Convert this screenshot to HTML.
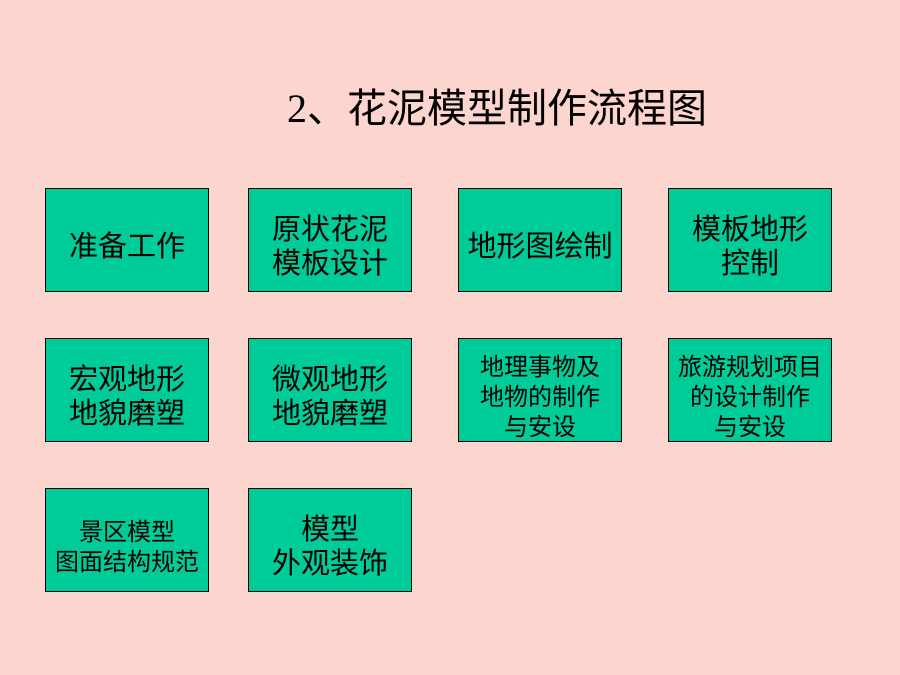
<!DOCTYPE html>
<html><head><meta charset="utf-8"><style>
body{margin:0;width:900px;height:675px;background:#fdd5cf;position:relative;overflow:hidden;font-family:"Liberation Serif","Noto Sans CJK SC",sans-serif;}
.t{position:absolute;left:287px;top:76px;font-size:40px;color:#000;white-space:nowrap;}
.b{position:absolute;width:164px;height:104px;background:#00cc99;border:1px solid #000;box-sizing:border-box;display:flex;align-items:center;justify-content:center;text-align:center;color:#000;font-family:"Liberation Sans","Noto Sans CJK SC",sans-serif;padding-top:13px;white-space:nowrap;}
.L{font-size:29px;line-height:34px;}
.S{font-size:24px;line-height:30px;padding-top:16px;}
</style></head><body>
<div class="t">2、花泥模型制作流程图</div>
<div class="b L" style="left:45px;top:188px">准备工作</div>
<div class="b L" style="left:248px;top:188px">原状花泥<br>模板设计</div>
<div class="b L" style="left:458px;top:188px">地形图绘制</div>
<div class="b L" style="left:668px;top:188px">模板地形<br>控制</div>
<div class="b L" style="left:45px;top:338px">宏观地形<br>地貌磨塑</div>
<div class="b L" style="left:248px;top:338px">微观地形<br>地貌磨塑</div>
<div class="b S" style="left:458px;top:338px">地理事物及<br>地物的制作<br>与安设</div>
<div class="b S" style="left:668px;top:338px">旅游规划项目<br>的设计制作<br>与安设</div>
<div class="b S" style="left:45px;top:488px">景区模型<br>图面结构规范</div>
<div class="b L" style="left:248px;top:488px">模型<br>外观装饰</div>
</body></html>
